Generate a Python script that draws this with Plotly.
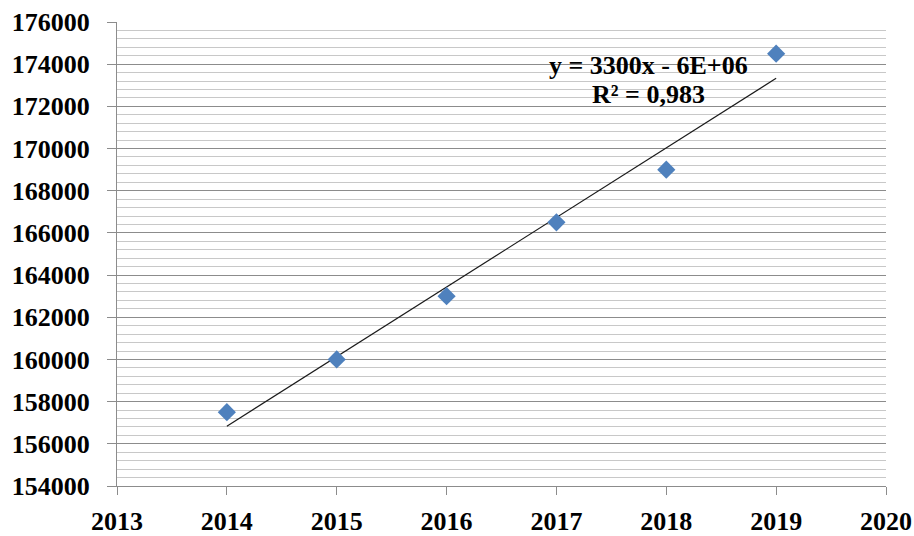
import numpy as np
import plotly.graph_objects as go

# Annual values
years = [2014, 2015, 2016, 2017, 2018, 2019]
values = [157500, 160000, 163000, 166500, 169000, 174500]

# Linear trend fitted to the series
slope, intercept = np.polyfit(years, values, 1)
trend_x = [years[0], years[-1]]
trend_y = [slope * x + intercept for x in trend_x]

serif = "Liberation Serif, Times New Roman, serif"
label_font = dict(family=serif, size=26, color="black", weight="bold")

fig = go.Figure()
fig.add_trace(go.Scatter(
    x=trend_x, y=trend_y, mode="lines",
    line=dict(color="#1a1a1a", width=1.2),
    hoverinfo="skip", showlegend=False,
))
fig.add_trace(go.Scatter(
    x=years, y=values, mode="markers",
    marker=dict(symbol="diamond", size=14, color="#4F81BD",
                line=dict(width=0)),
    showlegend=False,
))

# Trend equation and fit quality, one line each
fig.add_annotation(
    x=2017.84, y=173960, xref="x", yref="y",
    text="y = 3300x - 6E+06",
    showarrow=False, xanchor="center", yanchor="middle",
    font=label_font,
)
fig.add_annotation(
    x=2017.84, y=172540, xref="x", yref="y",
    text="R² = 0,983",
    showarrow=False, xanchor="center", yanchor="middle",
    font=label_font,
)

fig.update_layout(
    width=914, height=536,
    margin=dict(l=117, r=28, t=22, b=50),
    paper_bgcolor="white", plot_bgcolor="white",
    showlegend=False,
    xaxis=dict(
        range=[2013, 2020], dtick=1, tick0=2013,
        showgrid=False, zeroline=False,
        showline=True, linecolor="#8c8c8c", linewidth=1,
        ticks="outside", ticklen=8, tickcolor="#8c8c8c",
        tickfont=label_font,
        ticklabelstandoff=4,
        automargin=False,
    ),
    yaxis=dict(
        range=[154000, 176000], dtick=2000, tick0=154000,
        showgrid=True, gridcolor="#8c8c8c", gridwidth=1,
        minor=dict(dtick=400, showgrid=True, gridcolor="#c8c8c8", gridwidth=1),
        zeroline=False,
        showline=True, linecolor="#8c8c8c", linewidth=1,
        ticks="outside", ticklen=9, tickcolor="#8c8c8c",
        tickformat="d",
        tickfont=label_font,
        ticklabelstandoff=12,
        automargin=False,
    ),
)

fig.write_html("out.html")
